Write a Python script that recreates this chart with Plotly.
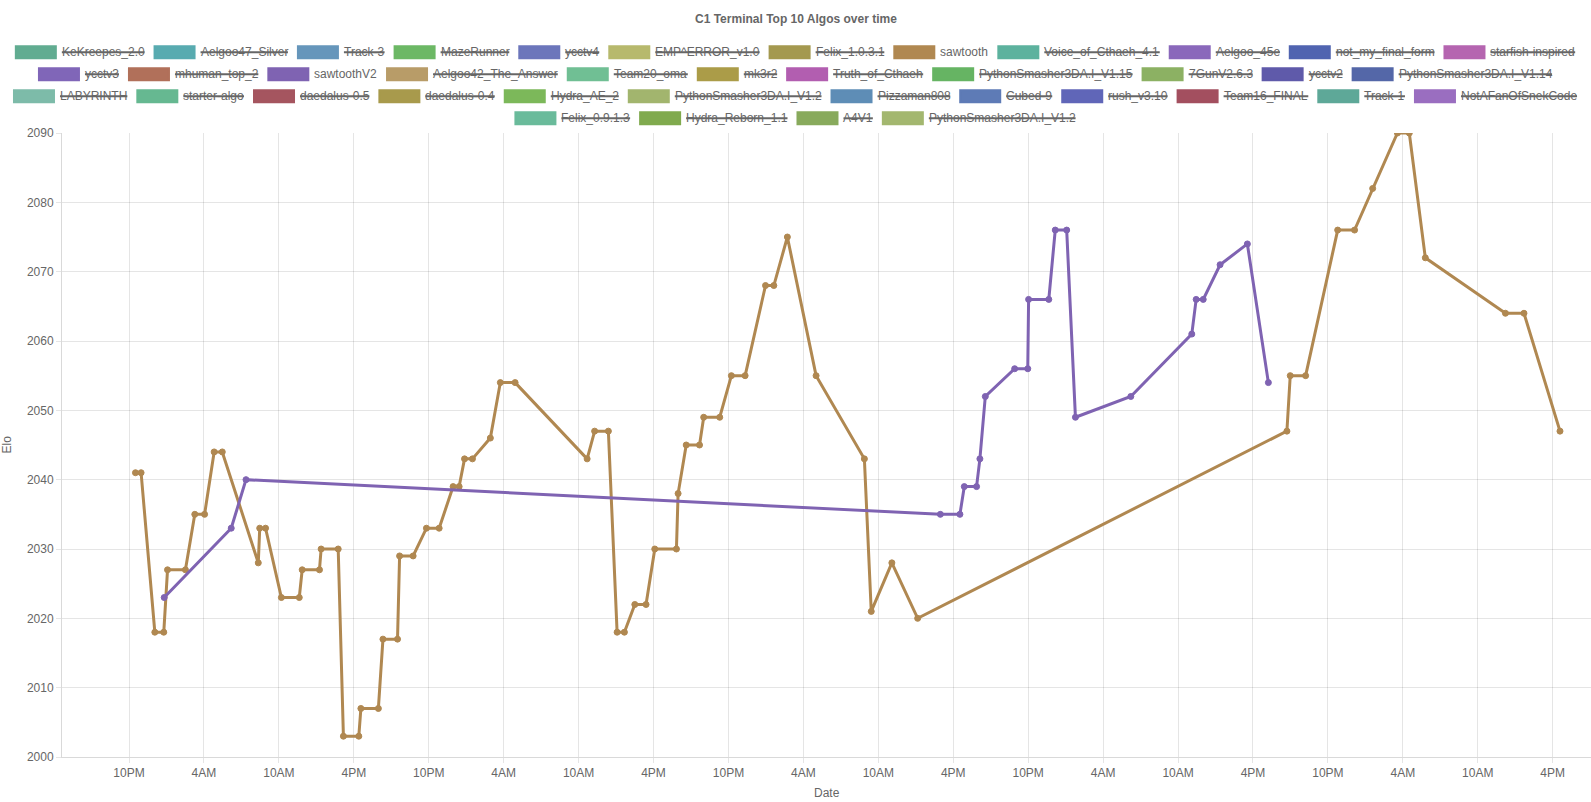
import plotly.graph_objects as go

# ---------------- data ----------------
sawtooth_time = [
    "2019-03-04 22:31", "2019-03-04 22:58", "2019-03-05 00:04", "2019-03-05 00:47",
    "2019-03-05 01:05", "2019-03-05 02:31", "2019-03-05 03:16", "2019-03-05 04:03",
    "2019-03-05 04:49", "2019-03-05 05:28", "2019-03-05 08:21", "2019-03-05 08:28",
    "2019-03-05 08:56", "2019-03-05 10:12", "2019-03-05 11:38", "2019-03-05 11:52",
    "2019-03-05 13:15", "2019-03-05 13:23", "2019-03-05 14:45", "2019-03-05 15:10",
    "2019-03-05 16:24", "2019-03-05 16:34", "2019-03-05 17:58", "2019-03-05 18:20",
    "2019-03-05 19:30", "2019-03-05 19:40", "2019-03-05 20:45", "2019-03-05 21:49",
    "2019-03-05 22:50", "2019-03-05 23:57", "2019-03-06 00:26", "2019-03-06 00:52",
    "2019-03-06 01:30", "2019-03-06 02:56", "2019-03-06 03:44", "2019-03-06 04:55",
    "2019-03-06 10:41", "2019-03-06 11:17", "2019-03-06 12:23", "2019-03-06 13:05",
    "2019-03-06 13:40", "2019-03-06 14:30", "2019-03-06 15:24", "2019-03-06 16:06",
    "2019-03-06 17:50", "2019-03-06 17:58", "2019-03-06 18:37", "2019-03-06 19:41",
    "2019-03-06 20:01", "2019-03-06 21:18", "2019-03-06 22:14", "2019-03-06 23:20",
    "2019-03-07 00:58", "2019-03-07 01:38", "2019-03-07 02:43", "2019-03-07 05:01",
    "2019-03-07 08:53", "2019-03-07 09:26", "2019-03-07 11:05", "2019-03-07 13:09",
    "2019-03-08 18:43", "2019-03-08 18:59", "2019-03-08 20:13", "2019-03-08 22:47",
    "2019-03-09 00:08", "2019-03-09 01:35", "2019-03-09 03:34", "2019-03-09 04:31",
    "2019-03-09 05:48", "2019-03-09 12:13", "2019-03-09 13:42", "2019-03-09 16:35",
]
sawtooth_elo = [
    2041, 2041, 2018, 2018, 2027, 2027, 2035, 2035, 2044, 2044, 2028, 2033,
    2033, 2023, 2023, 2027, 2027, 2030, 2030, 2003, 2003, 2007, 2007, 2017,
    2017, 2029, 2029, 2033, 2033, 2039, 2039, 2043, 2043, 2046, 2054, 2054,
    2043, 2047, 2047, 2018, 2018, 2022, 2022, 2030, 2030, 2038, 2045, 2045,
    2049, 2049, 2055, 2055, 2068, 2068, 2075, 2055, 2043, 2021, 2028, 2020,
    2047, 2055, 2055, 2076, 2076, 2082, 2090, 2090, 2072, 2064, 2064, 2047,
]

sawtoothV2_time = [
    "2019-03-05 00:49", "2019-03-05 06:11", "2019-03-05 07:22", "2019-03-07 14:58",
    "2019-03-07 16:32", "2019-03-07 16:53", "2019-03-07 17:52", "2019-03-07 18:08",
    "2019-03-07 18:34", "2019-03-07 20:55", "2019-03-07 21:58", "2019-03-07 22:02",
    "2019-03-07 23:39", "2019-03-08 00:10", "2019-03-08 01:05", "2019-03-08 01:47",
    "2019-03-08 06:13", "2019-03-08 11:06", "2019-03-08 11:27", "2019-03-08 12:01",
    "2019-03-08 13:22", "2019-03-08 15:33", "2019-03-08 17:14",
]
sawtoothV2_elo = [
    2023, 2033, 2040, 2035, 2035, 2039, 2039, 2043, 2052, 2056, 2056, 2066,
    2066, 2076, 2076, 2049, 2052, 2061, 2066, 2066, 2071, 2074, 2054,
]

legend_names = [
    "KeKreepes_2.0", "Aelgoo47_Silver", "Track-3", "MazeRunner", "ycctv4", "EMP^ERROR_v1.0",
    "Felix_1.0.3.1", "sawtooth", "Voice_of_Cthaeh_4.1", "Aelgoo_45e", "not_my_final_form",
    "starfish-inspired", "ycctv3", "mhuman_top_2", "sawtoothV2", "Aelgoo42_The_Answer",
    "Team20_oma", "mk3r2", "Truth_of_Cthaeh", "PythonSmasher3DA.I_V1.15", "7GunV2.6.3",
    "ycctv2", "PythonSmasher3DA.I_V1.14", "LABYRINTH", "starter-algo", "daedalus-0.5",
    "daedalus-0.4", "Hydra_AE_2", "PythonSmasher3DA.I_V1.2", "Pizzaman808", "Cubed-9",
    "rush_v3.10", "Team16_FINAL", "Track-1", "NotAFanOfSnekCode", "Felix_0.9.1.3",
    "Hydra_Reborn_1.1", "A4V1", "PythonSmasher3DA.I_V1.2",
]
legend_colors = [
    "#61ac91", "#58abb0", "#6696bb", "#6cb865", "#6c76bb", "#b7b96d",
    "#a4994f", "#b08851", "#5db29e", "#8a68bb", "#5064b0",
    "#b565b0", "#8066b8", "#b1705a", "#7f63b2", "#b89c68",
    "#70bf94", "#ab9c48", "#b25eb0", "#66b463", "#8cb163",
    "#5f5aaa", "#5467a8", "#7dbba9", "#66b891", "#a5555f",
    "#a89a4c", "#7cb85a", "#a2b56e", "#5e8db6", "#5e7bb6",
    "#6066b8", "#a34f5f", "#5ea898", "#9a6ec0", "#6abb9b",
    "#80aa4e", "#88aa5c", "#a3b76f",
]
visible_names = ["sawtooth", "sawtoothV2"]

title_text = "C1 Terminal Top 10 Algos over time"
x_title = "Date"
y_title = "Elo"

# ---------------- layout geometry ----------------
W, H = 1591, 802
ML, MR, MT, MB = 62, 0, 133, 45
PW, PH = W - ML - MR, H - MT - MB
FONT = "Helvetica Neue, Helvetica, Arial, Liberation Sans, sans-serif"
GRAY = "#666"
GRID = "rgba(0,0,0,0.1)"


def px(x):
    return (x - ML) / PW


def py(y):
    return (H - MB - y) / PH


# Arial / Helvetica advance widths (per 1000 em)
CW = dict(zip("abcdefghijklmnopqrstuvwxyz",
              [556, 556, 500, 556, 556, 278, 556, 556, 222, 222, 500, 222, 833,
               556, 556, 556, 556, 333, 500, 278, 556, 500, 722, 500, 500, 500]))
CW.update(zip("ABCDEFGHIJKLMNOPQRSTUVWXYZ",
              [667, 667, 722, 722, 667, 611, 778, 722, 278, 500, 667, 556, 833,
               722, 778, 667, 778, 722, 667, 611, 722, 667, 944, 667, 667, 611]))
CW.update({d: 556 for d in "0123456789"})
CW.update({"_": 556, "-": 333, ".": 278, "^": 469, " ": 278})


def text_w(s, size=12):
    return sum(CW.get(c, 556) for c in s) * size / 1000.0


# Chart.js-like legend layout
FS, BOXW, PAD = 12, 40, 10
widths = [BOXW + FS / 2 + text_w(n) for n in legend_names]
rows = [[]]
line_w = [PAD]
for i, w in enumerate(widths):
    if i > 0 and line_w[-1] + w + PAD > W:
        rows.append([])
        line_w.append(PAD)
    rows[-1].append(i)
    line_w[-1] += w + PAD

shapes = []
annotations = []
ROW0, ROWH = 52.3, 22
for r, idxs in enumerate(rows):
    cx = (W - line_w[r]) / 2 + PAD
    cy = ROW0 + r * ROWH
    for i in idxs:
        col = legend_colors[i]
        shapes.append(dict(type="rect", xref="paper", yref="paper",
                           x0=px(cx), x1=px(cx + BOXW), y0=py(cy + 6), y1=py(cy - 6),
                           fillcolor=col, line=dict(color=col, width=2), layer="above"))
        tx = cx + BOXW + FS / 2
        annotations.append(dict(xref="paper", yref="paper", x=px(tx), y=py(cy),
                                xanchor="left", yanchor="middle", showarrow=False,
                                text=legend_names[i], borderpad=0, borderwidth=0,
                                font=dict(family=FONT, size=12, color=GRAY)))
        if legend_names[i] not in visible_names:
            shapes.append(dict(type="line", xref="paper", yref="paper",
                               x0=px(tx), x1=px(tx + text_w(legend_names[i])),
                               y0=py(cy), y1=py(cy), line=dict(color=GRAY, width=2),
                               layer="above"))
        cx += widths[i] + PAD

annotations.append(dict(xref="paper", yref="paper", x=px(W / 2), y=py(18.8),
                        xanchor="center", yanchor="middle", showarrow=False,
                        text="<b>" + title_text + "</b>",
                        font=dict(family=FONT, size=12, color=GRAY)))
annotations.append(dict(xref="paper", yref="paper", x=0.5, y=py(793),
                        xanchor="center", yanchor="middle", showarrow=False,
                        text=x_title, font=dict(family=FONT, size=12, color=GRAY)))
annotations.append(dict(xref="paper", yref="paper", x=px(6.5), y=0.5,
                        xanchor="center", yanchor="middle", showarrow=False, textangle=-90,
                        text=y_title, font=dict(family=FONT, size=12, color=GRAY)))

# ---------------- figure ----------------
c_saw = legend_colors[legend_names.index("sawtooth")]
c_v2 = legend_colors[legend_names.index("sawtoothV2")]

fig = go.Figure()
fig.add_trace(go.Scatter(x=sawtooth_time, y=sawtooth_elo, mode="lines+markers",
                         name="sawtooth", line=dict(color=c_saw, width=3),
                         marker=dict(size=6, color=c_saw, line=dict(color=c_saw, width=1)),
                         showlegend=False))
fig.add_trace(go.Scatter(x=sawtoothV2_time, y=sawtoothV2_elo, mode="lines+markers",
                         name="sawtoothV2", line=dict(color=c_v2, width=3),
                         marker=dict(size=6, color=c_v2, line=dict(color=c_v2, width=1)),
                         showlegend=False))

fig.update_layout(
    width=W, height=H,
    margin=dict(l=ML, r=MR, t=MT, b=MB, pad=0),
    paper_bgcolor="white", plot_bgcolor="white",
    font=dict(family=FONT, size=12, color=GRAY),
    showlegend=False,
    shapes=shapes,
    annotations=annotations,
    xaxis=dict(type="date", range=["2019-03-04 16:38", "2019-03-09 19:04"],
               tick0="2019-03-04 22:00", dtick=6 * 3600 * 1000, tickformat="%-I%p",
               showgrid=True, gridcolor=GRID, gridwidth=1,
               ticks="outside", ticklen=5, tickcolor=GRID,
               showline=True, linecolor="rgba(0,0,0,0.15)", linewidth=1,
               zeroline=False, tickfont=dict(family=FONT, size=12, color=GRAY)),
    yaxis=dict(range=[2000, 2090], tick0=2000, dtick=10,
               showgrid=True, gridcolor=GRID, gridwidth=1,
               ticks="outside", ticklen=5, tickcolor=GRID,
               showline=True, linecolor="rgba(0,0,0,0.15)", linewidth=1,
               zeroline=False, tickfont=dict(family=FONT, size=12, color=GRAY)),
)

fig.write_html("out.html", config={"displayModeBar": False})
